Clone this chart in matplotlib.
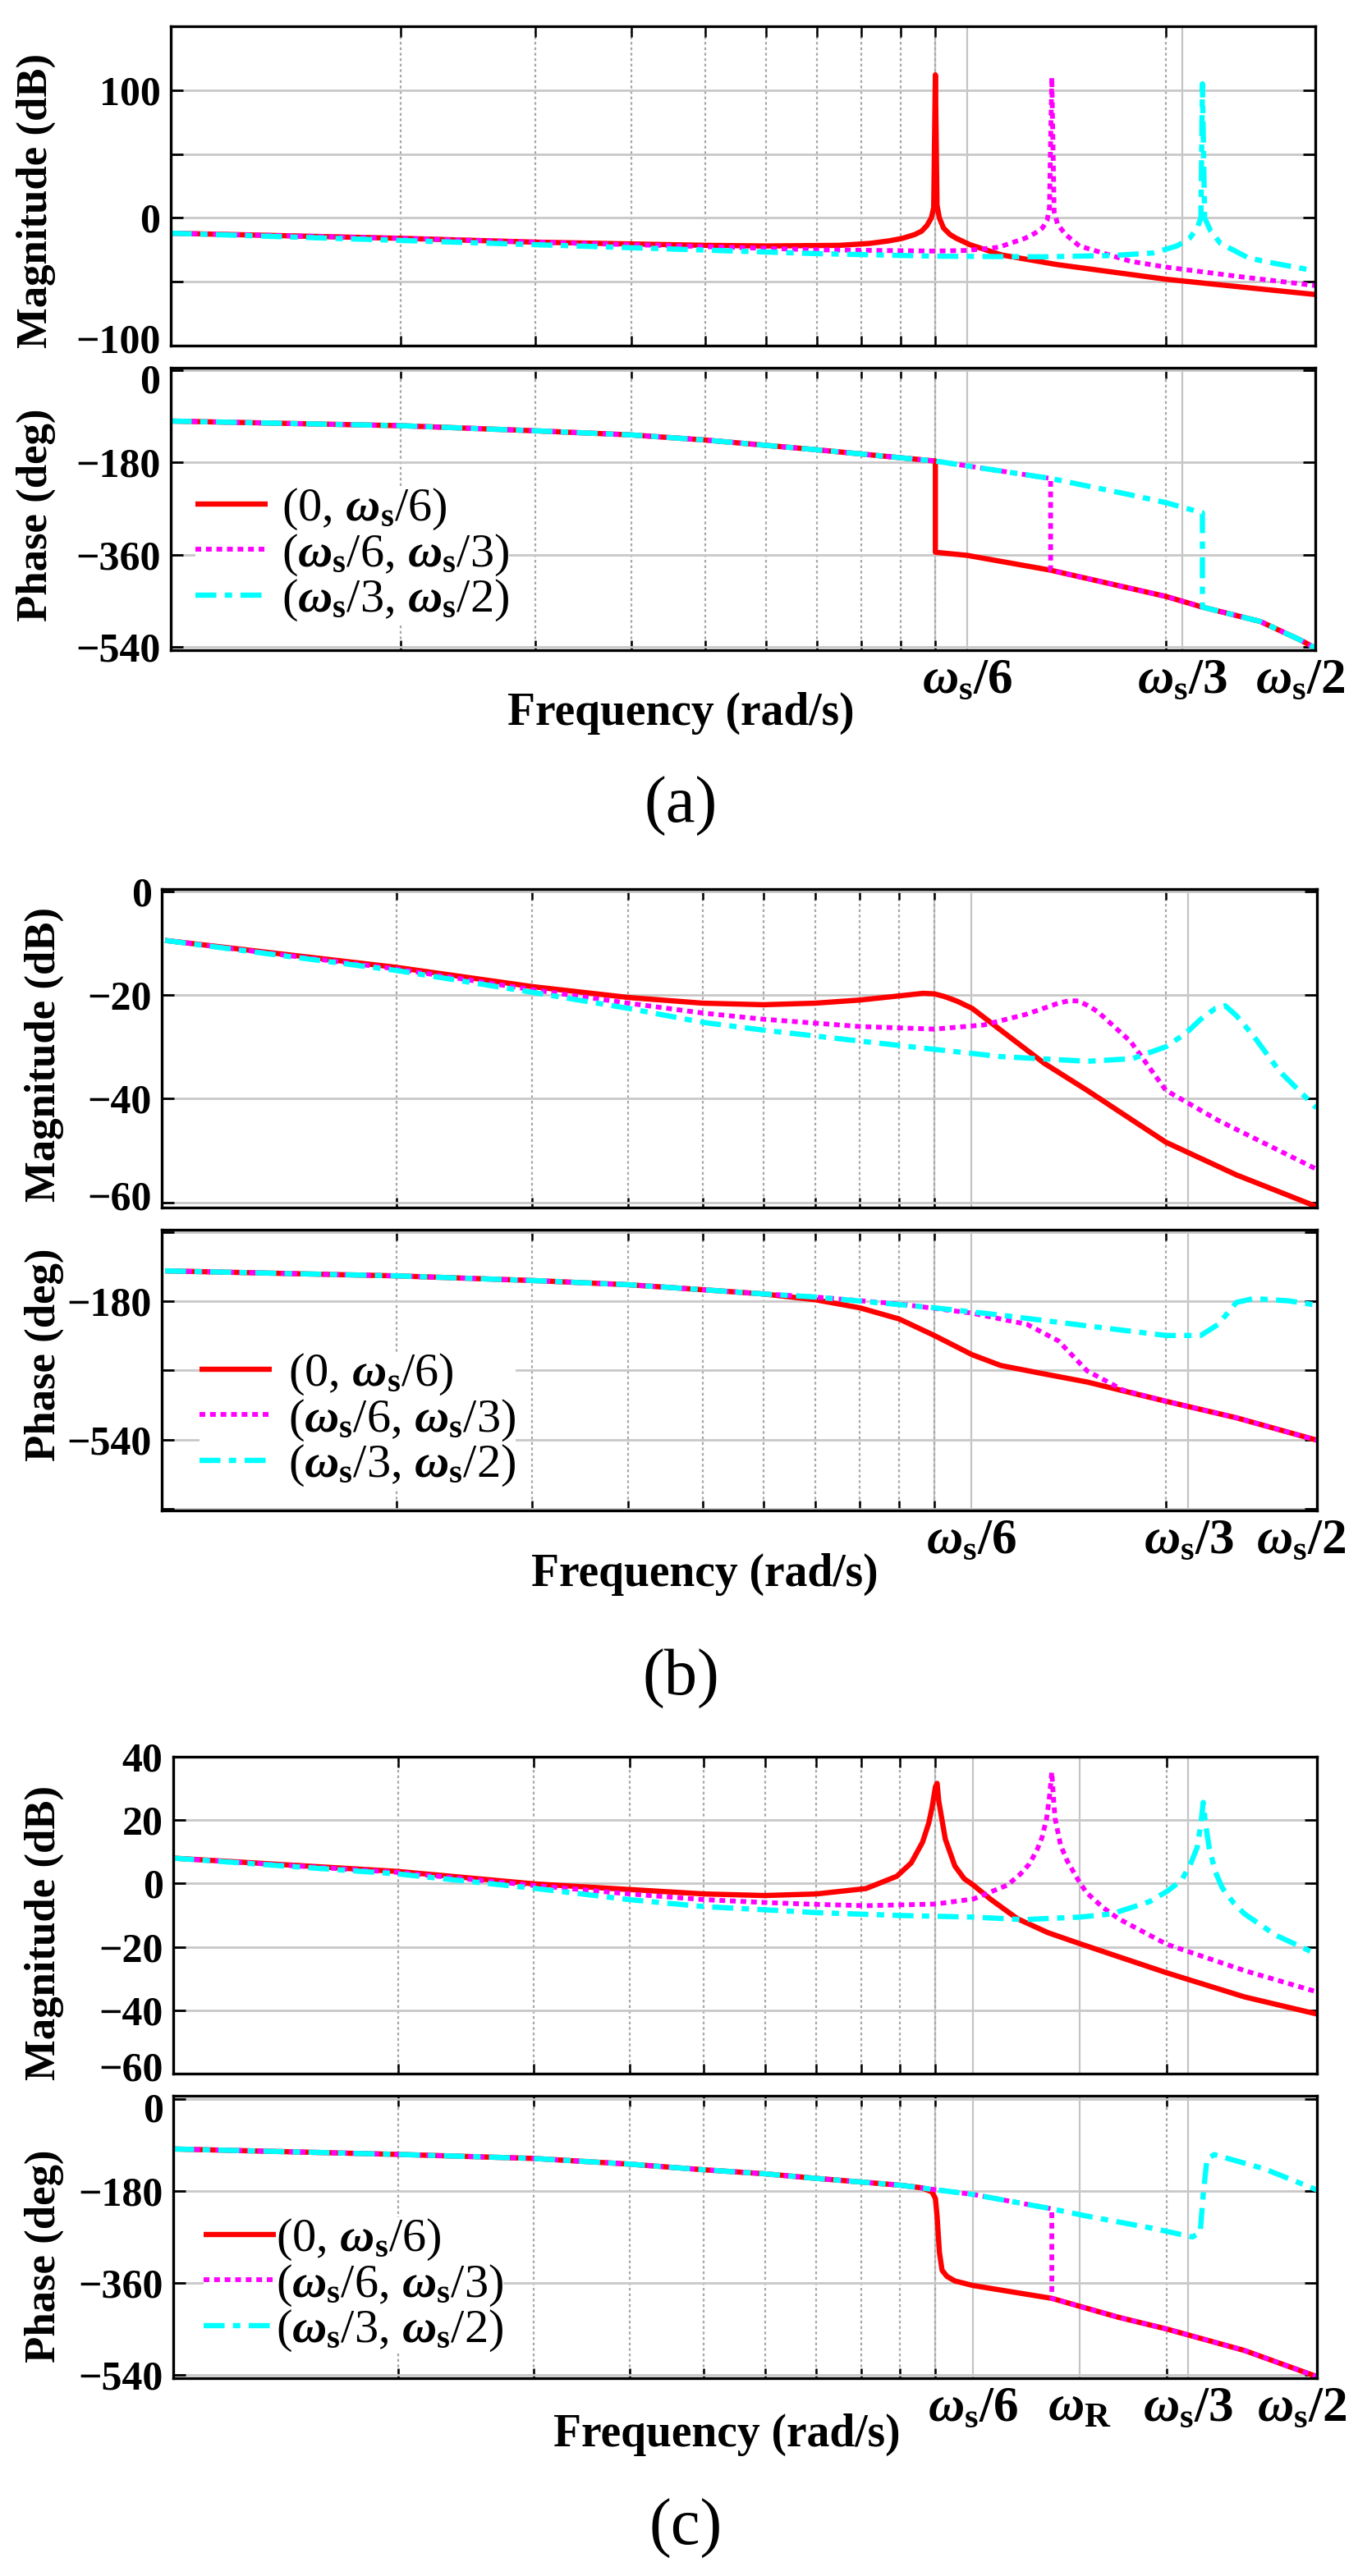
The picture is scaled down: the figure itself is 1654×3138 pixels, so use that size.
import matplotlib
matplotlib.use('Agg')
import matplotlib.pyplot as plt
from matplotlib.transforms import ScaledTranslation

plt.rcParams['font.family'] = ['Liberation Serif', 'DejaVu Serif']
plt.rcParams['mathtext.fontset'] = 'custom'
plt.rcParams['mathtext.it'] = 'Liberation Serif:italic:bold'
plt.rcParams['mathtext.rm'] = 'Liberation Serif:bold'
plt.rcParams['mathtext.bf'] = 'Liberation Serif:bold'

# ---------------- data (frequency in rad/s, arbitrary base) -----------
# panel (a)
a_mag_red_f = [100, 200, 300, 500, 600, 750, 820, 870, 906, 940, 959, 975, 988, 995, 1000,
               1005, 1012, 1025, 1045, 1065, 1110, 1220, 1440, 2000, 2500, 3140]
a_mag_red = [-12, -16, -19, -21.5, -22, -21.5, -20, -18, -16, -13, -10.5, -6, 0, 8, 112,
             10, 0, -8, -13, -16, -21, -29, -36.5, -48, -54, -60]
a_mag_mag_f = [100, 200, 300, 500, 700, 1000, 1100, 1210, 1310, 1350, 1380, 1400, 1410, 1420,
               1430, 1445, 1480, 1543, 1800, 2000, 2500, 3140]
a_mag_mag = [-12, -16, -19, -22.5, -25, -26, -25.5, -23, -16, -12, -8, -2, 8, 110,
             5, -5, -13, -22, -34, -38.5, -46, -53]
a_mag_cyan_f = [100, 300, 700, 1000, 1380, 1700, 1925, 2070, 2150, 2200, 2225, 2235, 2250,
                2290, 2360, 2570, 2800, 3140]
a_mag_cyan = [-12, -21, -28, -30, -30.5, -29.5, -27.5, -22, -16, -8, 0, 105, 0,
              -10, -20, -31.5, -36, -41.5]

a_ph_red_f = [100, 200, 300, 400, 500, 700, 1000, 1000, 1100, 1415, 2000, 2235, 2660, 3000, 3140]
a_ph_red = [-99, -108, -118, -126, -136, -155, -177, -355, -361, -390, -441, -462, -490, -526, -542]
a_ph_mag_f = [100, 200, 300, 400, 500, 700, 1000, 1200, 1415, 1415, 2000, 2235, 2660, 3000, 3140]
a_ph_mag = [-99, -108, -118, -126, -136, -155, -177, -195, -211, -390, -441, -462, -490, -526, -542]
a_ph_cyan_f = [100, 200, 300, 400, 500, 700, 1000, 1200, 1415, 1800, 2000, 2235, 2235, 2660, 3000, 3140]
a_ph_cyan = [-99, -108, -118, -126, -136, -155, -177, -195, -211, -243, -258, -278, -462, -490, -526, -542]

# panel (b)
b_mag_red_f = [100, 200, 300, 400, 500, 600, 700, 800, 900, 967, 1000, 1030, 1070, 1120, 1220,
               1390, 1580, 2000, 2470, 3140]
b_mag_red = [-9.5, -14.7, -18.4, -20.5, -21.6, -21.9, -21.6, -21, -20.2, -19.7, -19.8, -20.3,
             -21.2, -22.6, -26.8, -33.2, -38.4, -48.4, -54.7, -60.8]
b_mag_mag_f = [100, 200, 300, 400, 500, 600, 800, 1000, 1160, 1320, 1450, 1500, 1540, 1580,
               1630, 1800, 2000, 2340, 3140]
b_mag_mag = [-9.5, -15, -19, -21.6, -23.5, -24.7, -26.1, -26.6, -25.8, -23.7, -21.6, -21.1,
             -21.2, -22, -23.2, -29, -38.4, -44.2, -53.6]
b_mag_cyan_f = [100, 200, 300, 400, 500, 600, 800, 1000, 1220, 1580, 1810, 2000, 2120, 2220,
                2320, 2390, 2470, 2600, 2810, 3140]
b_mag_cyan = [-9.5, -15.3, -19.5, -22.6, -25.3, -26.8, -28.9, -30.5, -31.9, -32.8, -32.3, -30,
              -27.5, -24.7, -22.6, -22.1, -24, -27.9, -34.7, -41.8]

b_ph_red_f = [100, 200, 300, 400, 500, 600, 700, 800, 900, 1000, 1120, 1220, 1390, 1580, 2000, 2470, 3140]
b_ph_red = [-101, -114, -126, -137, -150, -161, -176, -197, -226, -269, -319, -347, -369, -390, -440, -483, -541]
b_ph_mag_f = [100, 200, 300, 400, 500, 600, 700, 900, 1120, 1320, 1450, 1580, 1760, 2000, 2470, 3140]
b_ph_mag = [-101, -114, -126, -137, -150, -161, -169, -187, -211, -240, -283, -361, -411, -440, -483, -541]
b_ph_cyan_f = [100, 200, 300, 400, 500, 600, 700, 1000, 1220, 1580, 2000, 2220, 2340, 2470, 2600, 2890, 3140]
b_ph_cyan = [-101, -114, -126, -137, -150, -161, -169, -197, -216, -244, -269, -269, -240, -183, -173, -179, -190]

# panel (c)
c_mag_red_f = [102, 200, 300, 400, 500, 600, 700, 812, 850, 891, 930, 962, 980, 990, 1000, 1005,
               1010, 1030, 1060, 1090, 1120, 1180, 1278, 1400, 1537, 1750, 2000, 2524, 3135]
c_mag_red = [8, 3.8, -0.1, -1.9, -3.3, -3.8, -3.3, -1.6, 0.3, 2.3, 6.5, 13, 19, 24, 30.5, 31.6,
             26, 14, 5.5, 1.5, -0.5, -5, -11.1, -15.5, -18.9, -23.5, -28.2, -35.8, -41.2]
c_mag_mag_f = [102, 200, 300, 400, 500, 600, 700, 812, 1000, 1120, 1241, 1290, 1325, 1355, 1376,
               1395, 1408, 1417, 1424, 1431, 1455, 1485, 1530, 1571, 1650, 1730, 2000, 2524, 3135]
c_mag_mag = [8, 3.5, -0.6, -3.3, -5.1, -6, -6.6, -7, -6.5, -4.9, -0.5, 3, 6.2, 10.5, 14.5,
             20.5, 28, 35.2, 27, 20.5, 12, 7, 1.5, -2.8, -7.5, -11.1, -19.2, -27.5, -34.2]
c_mag_cyan_f = [102, 200, 300, 400, 500, 600, 700, 900, 1120, 1301, 1541, 1696, 1900, 2000, 2090,
                2150, 2190, 2215, 2230, 2245, 2270, 2310, 2360, 2440, 2524, 2770, 3135]
c_mag_cyan = [8, 3.0, -1.5, -5.1, -7.3, -8.3, -9.2, -10.1, -10.6, -11.4, -10.6, -9.6, -5.7, -2.5, 1.0,
              6.5, 11.4, 19, 25.6, 19, 11.4, 4, -1.3, -6, -9.6, -16.3, -22.3]

c_ph_red_f = [102, 200, 300, 400, 500, 600, 700, 900, 960, 990, 1000, 1005, 1012, 1020, 1035, 1060,
              1120, 1417, 1730, 2000, 2524, 3135]
c_ph_red = [-98, -108.6, -116.5, -127.6, -138.7, -146.5, -155.5, -168.8, -174, -182, -195, -230,
            -300, -335, -347, -356, -365, -390, -427, -450, -492, -543]
c_ph_mag_f = [102, 200, 300, 400, 500, 600, 700, 900, 1120, 1417, 1417, 1730, 2000, 2524, 3135]
c_ph_mag = [-98, -108.6, -116.5, -127.6, -138.7, -146.5, -155.5, -168.8, -187, -215, -390, -427,
            -450, -492, -543]
c_ph_cyan_f = [102, 200, 300, 400, 500, 600, 700, 900, 1120, 1417, 1571, 1900, 2160, 2210, 2230,
               2255, 2305, 2680, 3135]
c_ph_cyan = [-98, -108.6, -116.5, -127.6, -138.7, -146.5, -155.5, -168.8, -187, -215, -229, -252,
             -270, -261, -187, -118, -109, -137, -178]

legend_labels = [r'(0, $\omega_{\rm s}$/6)', r'($\omega_{\rm s}$/6, $\omega_{\rm s}$/3)',
                 r'($\omega_{\rm s}$/3, $\omega_{\rm s}$/2)']
xlabels_ab = [r'$\omega_{\rm s}$/6', r'$\omega_{\rm s}$/3', r'$\omega_{\rm s}$/2']
xlabels_c = [r'$\omega_{\rm s}$/6', r'$\omega_{\rm R}$', r'$\omega_{\rm s}$/3', r'$\omega_{\rm s}$/2']

# ---------------- figure ----------------
W, H = 1654, 3138
fig = plt.figure(figsize=(W / 100, H / 100), dpi=100)


def box(l, r, t, b):
    return [l / W, 1 - b / H, (r - l) / W, (b - t) / H]


styles = [dict(color='#ff0000', lw=4.6, ls='-'),
          dict(color='#ff00ff', lw=4.2, ls=(0, (1.2, 1.0))),
          dict(color='#00ffff', lw=4.6, ls=(0, (4.0, 1.6, 1.4, 1.6)))]
minor_x = [200, 300, 400, 500, 600, 700, 800, 900, 1000, 2000, 3000]


def style_axes(ax, xlim, ylim, yticks, ylabels, solid_x, label_x, label_txt, show_x):
    ax.set_xscale('log')
    ax.set_xlim(*xlim)
    ax.set_ylim(*ylim)
    ax.set_yticks(yticks)
    ax.set_yticklabels(ylabels)
    ax.set_xticks(label_x)
    ax.set_xticklabels(label_txt if show_x else [''] * len(label_x))
    ax.set_xticks(minor_x, minor=True)
    ax.xaxis.set_minor_formatter(plt.NullFormatter())
    ax.tick_params(axis='y', which='major', direction='in', length=11, width=2,
                   left=True, right=True, labelsize=36, pad=9)
    ax.tick_params(axis='x', which='major', length=0, labelsize=44, pad=6,
                   bottom=show_x, top=False)
    ax.tick_params(axis='x', which='minor', direction='in', length=9, width=1.8,
                   bottom=True, top=True)
    for lab in ax.get_yticklabels() + ax.get_xticklabels():
        lab.set_fontweight('bold')
    ax.grid(True, which='major', axis='y', color='#c8c8c8', lw=2, ls='-')
    ax.grid(True, which='minor', axis='x', color='#a8a8a8', lw=1.6, ls=(0, (1.5, 1.5)))
    ax.grid(False, which='major', axis='x')
    for xv in solid_x:
        ax.axvline(xv, color='#c4c4c4', lw=1.6, zorder=0.5)
    for s in ax.spines.values():
        s.set_linewidth(2.4)
    ax.set_axisbelow(True)


def nudge(label, dy_px):
    label.set_transform(label.get_transform() + ScaledTranslation(0, dy_px / 100, fig.dpi_scale_trans))


def draw(ax, fs, vs):
    lines = []
    for f, v, st in zip(fs, vs, styles):
        ln, = ax.plot(f, v, solid_capstyle='butt', dash_capstyle='butt', **st)
        lines.append(ln)
    return lines


panels = [
    dict(mag_box=(208, 1602, 32, 421), ph_box=(208, 1602, 448, 792), xlim=(100, 3140),
         mag=([a_mag_red_f, a_mag_mag_f, a_mag_cyan_f], [a_mag_red, a_mag_mag, a_mag_cyan]),
         ph=([a_ph_red_f, a_ph_mag_f, a_ph_cyan_f], [a_ph_red, a_ph_mag, a_ph_cyan]),
         mag_ylim=(-100, 150), mag_ticks=[-100, -50, 0, 50, 100], mag_lab=['\u2212100', '', '0', '', '100'],
         ph_ylim=(-546, 5), ph_ticks=[-540, -360, -180, 0], ph_lab=['\u2212540', '\u2212360', '\u2212180', '0'],
         solid=[1000, 1100, 2105], lab_x=[1100, 2105, 3000], lab_txt=xlabels_ab,
         ylab_mag=(44, 244), ylab_ph=(44, 627), xlab=(829, 869), cap=('(a)', 829, 982),
         leg=(238, 613), leg_pad=0.3),
    dict(mag_box=(197, 1604, 1083, 1471), ph_box=(197, 1604, 1498, 1840), xlim=(99, 3144),
         mag=([b_mag_red_f, b_mag_mag_f, b_mag_cyan_f], [b_mag_red, b_mag_mag, b_mag_cyan]),
         ph=([b_ph_red_f, b_ph_mag_f, b_ph_cyan_f], [b_ph_red, b_ph_mag, b_ph_cyan]),
         mag_ylim=(-61, 0.4), mag_ticks=[-60, -40, -20, 0], mag_lab=['\u221260', '\u221240', '\u221220', '0'],
         ph_ylim=(-724, 6), ph_ticks=[-720, -540, -360, -180, 0], ph_lab=['', '\u2212540', '', '\u2212180', ''],
         solid=[1000, 1116, 2140], lab_x=[1116, 2140, 3000], lab_txt=xlabels_ab,
         ylab_mag=(54, 1284), ylab_ph=(54, 1650), xlab=(858, 1918), cap=('(b)', 829, 2045),
         leg=(243, 1667), leg_pad=0.35),
    dict(mag_box=(211, 1604, 2140, 2526), ph_box=(211, 1604, 2553, 2897), xlim=(102, 3135),
         mag=([c_mag_red_f, c_mag_mag_f, c_mag_cyan_f], [c_mag_red, c_mag_mag, c_mag_cyan]),
         ph=([c_ph_red_f, c_ph_mag_f, c_ph_cyan_f], [c_ph_red, c_ph_mag, c_ph_cyan]),
         mag_ylim=(-60, 40), mag_ticks=[-60, -40, -20, 0, 20, 40],
         mag_lab=['\u221260', '\u221240', '\u221220', '0', '20', '40'],
         ph_ylim=(-546, 6), ph_ticks=[-540, -360, -180, 0], ph_lab=['\u2212540', '\u2212360', '\u2212180', '0'],
         solid=[1000, 1120, 1540, 2130], lab_x=[1120, 1540, 2130, 3000], lab_txt=xlabels_c,
         ylab_mag=(54, 2354), ylab_ph=(54, 2748), xlab=(885, 2966), cap=('(c)', 835, 3080),
         leg=(248, 2721), leg_pad=0.0),
]

for p in panels:
    axm = fig.add_axes(box(*p['mag_box']))
    axp = fig.add_axes(box(*p['ph_box']))
    draw(axm, *p['mag'])
    lines = draw(axp, *p['ph'])
    style_axes(axm, p['xlim'], p['mag_ylim'], p['mag_ticks'], p['mag_lab'], p['solid'],
               p['lab_x'], p['lab_txt'], False)
    style_axes(axp, p['xlim'], p['ph_ylim'], p['ph_ticks'], p['ph_lab'], p['solid'],
               p['lab_x'], p['lab_txt'], True)
    # bottom label of the magnitude axes and top label of the phase axes sit close together
    nudge(axm.get_yticklabels()[0], 9)
    nudge(axp.get_yticklabels()[-1], -10)

    fig.text(p['ylab_mag'][0] / W, 1 - p['ylab_mag'][1] / H, 'Magnitude (dB)', rotation=90,
             ha='center', va='center', fontsize=38, fontweight='bold')
    fig.text(p['ylab_ph'][0] / W, 1 - p['ylab_ph'][1] / H, 'Phase (deg)', rotation=90,
             ha='center', va='center', fontsize=38, fontweight='bold')
    fig.text(p['xlab'][0] / W, 1 - p['xlab'][1] / H, 'Frequency (rad/s)',
             ha='center', va='center', fontsize=40, fontweight='bold')
    fig.text(p['cap'][1] / W, 1 - p['cap'][2] / H, p['cap'][0],
             ha='center', va='center', fontsize=58)

    lx, ly = p['leg']
    axp.legend(lines, legend_labels, loc='upper left',
               bbox_to_anchor=(lx / W, 1 - (ly - 20) / H), bbox_transform=fig.transFigure,
               fontsize=42, handlelength=1.5, handletextpad=p['leg_pad'], labelspacing=0.0,
               borderpad=0.0, borderaxespad=0.0, frameon=True, fancybox=False,
               facecolor='white', edgecolor='none', framealpha=1.0)

fig.savefig('out.png', dpi=100)
